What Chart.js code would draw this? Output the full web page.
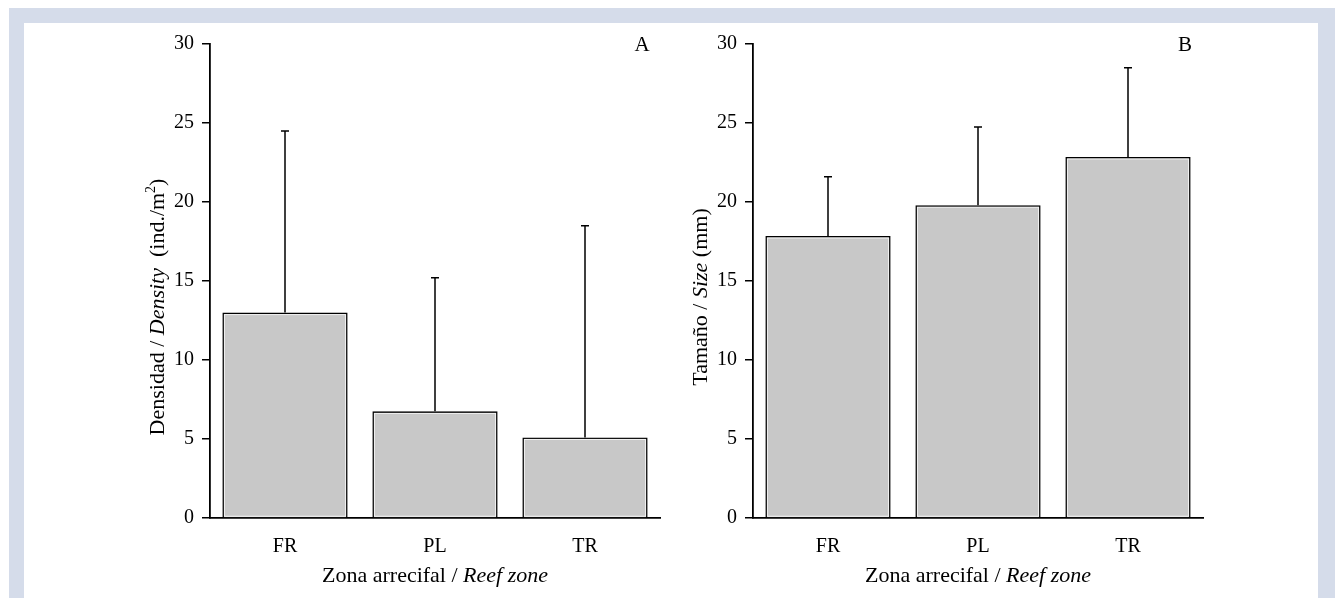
<!DOCTYPE html>
<html lang="es">
<head>
<meta charset="UTF-8">
<title>Densidad y tamaño por zona arrecifal</title>
<script src="https://cdn.jsdelivr.net/npm/chart.js"></script>
<style>
  body { margin: 0; width: 1335px; height: 598px; overflow: hidden; position: relative; background: #fff; }
  .frame { position: absolute; left: 9px; top: 8px; right: 0; bottom: -20px; background: #d5dcea; }
  .panel { position: absolute; left: 24px; top: 23px; width: 1294px; height: 575px; background: #fff; }
  canvas { position: absolute; top: 0; }
  #chartA { left: 0; }
  #chartB { left: 656px; }
</style>
</head>
<body>
<div class="frame"></div>
<div class="panel">
  <canvas id="chartA" width="656" height="575"></canvas>
  <canvas id="chartB" width="638" height="575"></canvas>
</div>
<script>
// data
const zones = ["FR", "PL", "TR"];
const densityMean = [13.0, 6.75, 5.1];
const densityUpper = [24.5, 15.2, 18.5];
const sizeMean = [17.85, 19.8, 22.85];
const sizeUpper = [21.6, 24.75, 28.5];
const yTicks = [0, 5, 10, 15, 20, 25, 30];

const FONT = "'Liberation Serif', 'Times New Roman', serif";

// error bars (upper only) + light inner edge of the bars
const errorBars = {
  id: "errorBars",
  afterDatasetsDraw(chart, args, opts) {
    const { ctx, scales: { x, y } } = chart;
    const vals = chart.data.datasets[0].data;
    ctx.save();
    ctx.strokeStyle = "#f4f4f4";
    ctx.lineWidth = 1;
    chart.getDatasetMeta(0).data.forEach((bar) => {
      const p = bar.getProps(["x", "y", "base", "width"], true);
      ctx.strokeRect(p.x - p.width / 2 + 2, p.y + 2, p.width - 4, p.base - p.y - 3);
    });
    ctx.strokeStyle = "#000";
    ctx.lineWidth = 1.5;
    opts.upper.forEach((u, i) => {
      const px = x.getPixelForValue(i);
      const y0 = y.getPixelForValue(vals[i]);
      const y1 = y.getPixelForValue(u);
      ctx.beginPath();
      ctx.moveTo(px, y0);
      ctx.lineTo(px, y1);
      ctx.moveTo(px - 4, y1);
      ctx.lineTo(px + 4, y1);
      ctx.stroke();
    });
    ctx.restore();
  },
};

// text with italic / superscript pieces, centred on 0,0
function drawRich(ctx, parts, size) {
  const fontFor = (p) =>
    (p.italic ? "italic " : "") + (p.sup ? Math.round(size * 0.62) : size) + "px " + FONT;
  let total = 0;
  parts.forEach((p) => {
    ctx.font = fontFor(p);
    p.w = ctx.measureText(p.text).width;
    total += p.w;
  });
  let x = -total / 2;
  parts.forEach((p) => {
    ctx.font = fontFor(p);
    ctx.fillText(p.text, x, p.sup ? -size * 0.32 : 0);
    x += p.w;
  });
}

const richTitles = {
  id: "richTitles",
  afterDraw(chart, args, opts) {
    const { ctx, chartArea: a } = chart;
    ctx.save();
    ctx.fillStyle = "#000";
    ctx.textAlign = "left";
    ctx.textBaseline = "middle";

    ctx.save();
    ctx.translate((a.left + a.right) / 2, a.bottom + 58);
    drawRich(ctx, opts.xTitle, 22);
    ctx.restore();

    ctx.save();
    ctx.translate(a.left - 52, (a.top + a.bottom) / 2 + opts.yShift);
    ctx.rotate(-Math.PI / 2);
    drawRich(ctx, opts.yTitle, 22);
    ctx.restore();

    ctx.save();
    ctx.translate(a.right - 18, a.top + 1);
    drawRich(ctx, [{ text: opts.letter }], 21);
    ctx.restore();

    ctx.restore();
  },
};

function makeChart(id, values, upper, yWidth, padRight, titles) {
  return new Chart(document.getElementById(id), {
    type: "bar",
    data: {
      labels: zones,
      datasets: [
        {
          data: values,
          backgroundColor: "#c8c8c8",
          borderColor: "#000",
          borderWidth: 1.8,
          categoryPercentage: 1,
          barPercentage: 0.835,
        },
      ],
    },
    options: {
      responsive: false,
      animation: false,
      devicePixelRatio: 1,
      layout: { padding: { left: 0, right: padRight, top: 21, bottom: 0 } },
      plugins: {
        legend: { display: false },
        tooltip: { enabled: false },
        errorBars: { upper },
        richTitles: titles,
      },
      scales: {
        x: {
          grid: { display: false },
          border: { display: true, color: "#000", width: 1.8 },
          ticks: { color: "#000", padding: 9, font: { family: FONT, size: 20 } },
          afterFit: (s) => { s.height = 80; },
        },
        y: {
          min: 0,
          max: 30,
          grid: { drawOnChartArea: false, drawTicks: true, tickLength: 8, color: "#000", lineWidth: 1.5 },
          border: { display: true, color: "#000", width: 1.8 },
          ticks: { color: "#000", padding: 8, font: { family: FONT, size: 20 } },
          afterBuildTicks: (s) => { s.ticks = yTicks.map((v) => ({ value: v })); },
          afterFit: (s) => { s.width = yWidth; },
        },
      },
    },
    plugins: [errorBars, richTitles],
  });
}

makeChart("chartA", densityMean, densityUpper, 186, 20, {
  letter: "A",
  yShift: 26,
  xTitle: [{ text: "Zona arrecifal / " }, { text: "Reef zone", italic: true }],
  yTitle: [
    { text: "Densidad / " },
    { text: "Density", italic: true },
    { text: "  (ind./m" },
    { text: "2", sup: true },
    { text: ")" },
  ],
});

makeChart("chartB", sizeMean, sizeUpper, 73, 115, {
  letter: "B",
  yShift: 16,
  xTitle: [{ text: "Zona arrecifal / " }, { text: "Reef zone", italic: true }],
  yTitle: [{ text: "Tamaño / " }, { text: "Size", italic: true }, { text: " (mm)" }],
});
</script>
</body>
</html>
